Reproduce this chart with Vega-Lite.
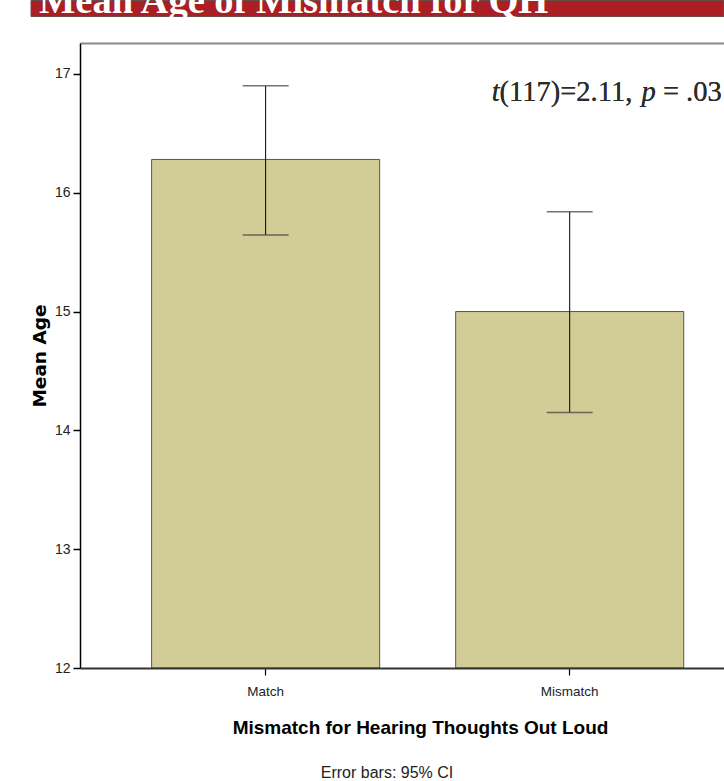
{
  "$schema": "https://vega.github.io/schema/vega-lite/v6.json",
  "padding": {"left": 30, "top": -18.5, "right": 0, "bottom": 0},
  "background": "white",
  "spacing": 22.5,
  "config": {"view": {"stroke": null}, "axis": {"grid": false}},
  "datasets": {
    "means": [
      {"group": "Match", "mean": 16.28, "lower": 15.645, "upper": 16.9},
      {"group": "Mismatch", "mean": 15.0, "lower": 14.15, "upper": 15.84}
    ]
  },
  "vconcat": [
    {
      "width": 644,
      "height": 16,
      "data": {"values": [{"title": "Mean Age of Mismatch for QH"}]},
      "layer": [
        {
          "mark": {"type": "rect", "fill": "#AB1F24", "stroke": "#6e4a48", "strokeWidth": 1},
          "encoding": {"x": {"value": -49}, "x2": {"value": "width"}, "y": {"value": 0}, "y2": {"value": "height"}}
        },
        {
          "mark": {"type": "text", "font": "Liberation Serif", "fontWeight": "bold", "fontSize": 38.5, "color": "white", "align": "left", "baseline": "alphabetic"},
          "encoding": {"text": {"field": "title"}, "x": {"value": -41}, "y": {"value": 12.5}}
        }
      ]
    },
    {
      "width": 644,
      "height": 625,
      "data": {"name": "means"},
      "title": {"text": "Error bars: 95% CI", "orient": "bottom", "anchor": "middle", "frame": "group", "dx": -15, "offset": 27, "font": "Liberation Sans", "fontSize": 16, "fontWeight": "normal", "color": "#222"},
      "layer": [
        {
          "mark": {"type": "bar", "fill": "#D2CD96", "stroke": "#555555", "strokeWidth": 1},
          "encoding": {
            "x": {"field": "group", "type": "nominal", "sort": null,
              "scale": {"paddingInner": 0.25, "paddingOuter": 0.184, "align": 0.64},
              "axis": {"orient": "bottom", "zindex": 1, "labelAngle": 0, "domainColor": "#333333", "domainWidth": 2, "tickColor": "#000000", "tickSize": 7, "tickWidth": 1.2, "labelFont": "Liberation Sans", "labelFontSize": 13.5, "labelColor": "#222222", "labelPadding": 9.5, "title": "Mismatch for Hearing Thoughts Out Loud", "titleFont": "Liberation Sans", "titleFontSize": 19, "titleFontWeight": "bold", "titleColor": "#000000", "titlePadding": 20.5, "titleX": 340}},
            "y": {"field": "mean", "type": "quantitative", "title": "Mean Age",
              "scale": {"domain": [12, 17.26], "nice": false, "zero": false},
              "axis": {"zindex": 1, "values": [12, 13, 14, 15, 16, 17], "format": "d", "domainColor": "#000000", "domainWidth": 1.5, "tickColor": "#000000", "tickSize": 7, "tickWidth": 1.5, "labelFont": "Liberation Sans", "labelFontSize": 14, "labelColor": "#222222", "labelPadding": 3, "minExtent": 23, "maxExtent": 23, "titleFont": "DejaVu Sans", "titleFontSize": 18.5, "titleFontWeight": "bold", "titleColor": "#000000", "titlePadding": 8}},
            "y2": {"datum": 12}
          }
        },
        {
          "mark": {"type": "rule", "color": "#000000", "strokeWidth": 1},
          "encoding": {
            "x": {"field": "group", "type": "nominal", "sort": null,
              "axis": {"orient": "top", "zindex": 1, "labels": false, "ticks": false, "title": null, "domainColor": "#8a8a8a", "domainWidth": 2}},
            "y": {"field": "lower", "type": "quantitative", "title": "Mean Age"},
            "y2": {"field": "upper"}
          }
        },
        {
          "mark": {"type": "tick", "size": 46, "thickness": 1.5, "color": "#3a3a3a"},
          "encoding": {
            "x": {"field": "group", "type": "nominal", "sort": null, "axis": null},
            "y": {"field": "upper", "type": "quantitative", "title": "Mean Age"}
          }
        },
        {
          "mark": {"type": "tick", "size": 46, "thickness": 1.5, "color": "#3a3a3a"},
          "encoding": {
            "x": {"field": "group", "type": "nominal", "sort": null, "axis": null},
            "y": {"field": "lower", "type": "quantitative", "title": "Mean Age"}
          }
        },
        {
          "mark": {"type": "text", "font": "Liberation Serif", "fontSize": 28.5, "fontStyle": "italic", "color": "#2b2b2b", "align": "left", "baseline": "alphabetic", "dx": -78},
          "encoding": {"x": {"datum": "Mismatch", "axis": null}, "y": {"datum": 16.773}, "text": {"value": "t"}}
        },
        {
          "mark": {"type": "text", "font": "Liberation Serif", "fontSize": 28.5, "color": "#2b2b2b", "align": "left", "baseline": "alphabetic", "dx": -70.1},
          "encoding": {"x": {"datum": "Mismatch", "axis": null}, "y": {"datum": 16.773}, "text": {"value": "(117)=2.11,"}}
        },
        {
          "mark": {"type": "text", "font": "Liberation Serif", "fontSize": 28.5, "fontStyle": "italic", "color": "#2b2b2b", "align": "left", "baseline": "alphabetic", "dx": 71.8},
          "encoding": {"x": {"datum": "Mismatch", "axis": null}, "y": {"datum": 16.773}, "text": {"value": "p"}}
        },
        {
          "mark": {"type": "text", "font": "Liberation Serif", "fontSize": 28.5, "color": "#2b2b2b", "align": "left", "baseline": "alphabetic", "dx": 93.2},
          "encoding": {"x": {"datum": "Mismatch", "axis": null}, "y": {"datum": 16.773}, "text": {"value": "= .03"}}
        }
      ],
      "resolve": {"axis": {"x": "independent"}}
    }
  ]
}
